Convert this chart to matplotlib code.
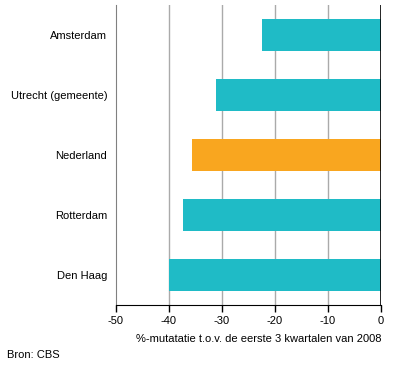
import matplotlib
matplotlib.use("Agg")
import matplotlib.pyplot as plt

categories = ["Amsterdam", "Utrecht (gemeente)", "Nederland", "Rotterdam", "Den Haag"]
values = [-22.4, -31.1, -35.6, -37.3, -40.0]
colors = ["#1FBBC6", "#1FBBC6", "#F9A61F", "#1FBBC6", "#1FBBC6"]
xticks = [-50, -40, -30, -20, -10, 0]

plt.rcParams['font.family'] = ['Liberation Sans', 'DejaVu Sans']

fig = plt.figure(figsize=(3.96, 3.67), dpi=100)
W, H = 396, 367
ax = fig.add_axes([115.5 / W, 1 - 305 / H, (381 - 115.5) / W, 300 / H])

ypos = list(range(len(categories)))
ax.barh(ypos, values, height=0.545, color=colors, zorder=3)
ax.set_ylim(len(categories) - 0.5, -0.5)
ax.set_xlim(-50, 0)
ax.set_yticks(ypos)
ax.set_yticklabels(categories, fontsize=8)
ax.tick_params(axis='y', length=0, pad=6)
ax.set_xticks(xticks)
ax.set_xticklabels([str(t) for t in xticks], fontsize=8)
ax.tick_params(axis='x', length=5, width=1, color='black', pad=3)

for t in xticks[1:-1]:
    ax.axvline(t, color='#AAAAAA', lw=1, zorder=1)
ax.axvline(0, color='black', lw=1.2, zorder=4)

ax.spines['top'].set_visible(False)
ax.spines['right'].set_visible(False)
ax.spines['left'].set_color('#808080')
ax.spines['bottom'].set_color('black')

ax.set_xlabel("%-mutatatie t.o.v. de eerste 3 kwartalen van 2008", fontsize=8, loc='right', labelpad=6)
fig.text(7 / W, 1 - 355 / H, "Bron: CBS", fontsize=8, va='center', ha='left')

fig.savefig("out.png", dpi=100)
